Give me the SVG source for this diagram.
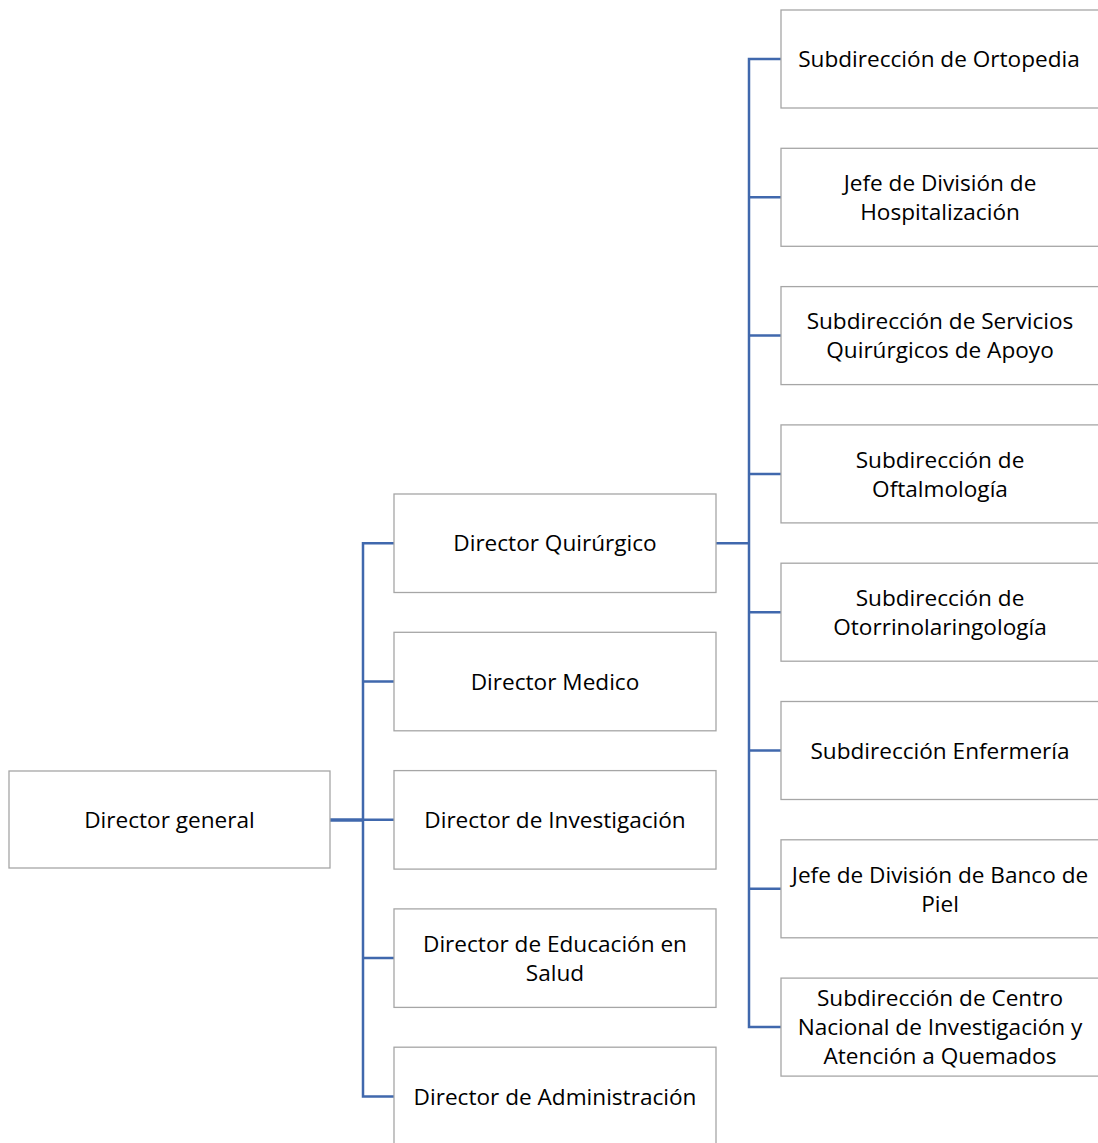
<svg xmlns="http://www.w3.org/2000/svg" width="1098" height="1143" viewBox="0 0 1098 1143">
<style>
.box{fill:#ffffff;stroke:#a6a6a6;stroke-width:1.3}
.t{font-family:"Open Sans","Noto Sans","DejaVu Sans",sans-serif;font-size:22.6px;fill:#000000;text-anchor:middle}
.c{fill:none;stroke:#4068ad;stroke-width:2.5}
</style>
<rect width="1098" height="1143" fill="#ffffff"/>
<g id="connectors">
<path class="c" style="stroke-width:3.5" d="M330,820H363"/>
<path class="c" d="M394,543.2H363V1096.4H394M363,681.5H394M363,819.8H394M363,958.1H394"/>
<path class="c" d="M716,543.2H749"/>
<path class="c" d="M781,59H749V1027H781M749,197.3H781M749,335.6H781M749,473.9H781M749,612.2H781M749,750.5H781M749,888.8H781"/>
</g>
<g id="n-general"><rect class="box" x="9" y="771" width="321" height="97"/><text class="t" x="169.5" y="827.8">Director general</text></g>
<g id="n-quirurgico"><rect class="box" x="394" y="494" width="322" height="98.5"/><text class="t" x="555" y="551.3">Director Quirúrgico</text></g>
<g id="n-medico"><rect class="box" x="394" y="632.3" width="322" height="98.5"/><text class="t" x="555" y="689.8">Director Medico</text></g>
<g id="n-investigacion"><rect class="box" x="394" y="770.6" width="322" height="98.5"/><text class="t" x="555" y="828.1">Director de Investigación</text></g>
<g id="n-educacion"><rect class="box" x="394" y="908.9" width="322" height="98.5"/><text class="t" x="555" y="951.8">Director de Educación en</text><text class="t" x="555" y="980.8">Salud</text></g>
<g id="n-administracion"><rect class="box" x="394" y="1047.2" width="322" height="98.5"/><text class="t" x="555" y="1104.7">Director de Administración</text></g>
<g id="n-ortopedia"><rect class="box" x="781" y="10" width="322" height="98"/><text class="t" x="939" y="67.3">Subdirección de Ortopedia</text></g>
<g id="n-hospitalizacion"><rect class="box" x="781" y="148.3" width="322" height="98"/><text class="t" x="940" y="191">Jefe de División de</text><text class="t" x="940" y="220">Hospitalización</text></g>
<g id="n-servicios"><rect class="box" x="781" y="286.6" width="322" height="98"/><text class="t" x="940" y="329.3">Subdirección de Servicios</text><text class="t" x="940" y="358.3">Quirúrgicos de Apoyo</text></g>
<g id="n-oftalmologia"><rect class="box" x="781" y="424.9" width="322" height="98"/><text class="t" x="940" y="467.6">Subdirección de</text><text class="t" x="940" y="496.6">Oftalmología</text></g>
<g id="n-otorrino"><rect class="box" x="781" y="563.2" width="322" height="98"/><text class="t" x="940" y="605.9">Subdirección de</text><text class="t" x="940" y="634.9">Otorrinolaringología</text></g>
<g id="n-enfermeria"><rect class="box" x="781" y="701.5" width="322" height="98"/><text class="t" x="940" y="758.8">Subdirección Enfermería</text></g>
<g id="n-piel"><rect class="box" x="781" y="839.8" width="322" height="98"/><text class="t" x="940" y="882.5">Jefe de División de Banco de</text><text class="t" x="940" y="911.5">Piel</text></g>
<g id="n-quemados"><rect class="box" x="781" y="978.1" width="322" height="98"/><text class="t" x="940" y="1006.3">Subdirección de Centro</text><text class="t" x="940" y="1035.3">Nacional de Investigación y</text><text class="t" x="940" y="1064.3">Atención a Quemados</text></g>
</svg>
